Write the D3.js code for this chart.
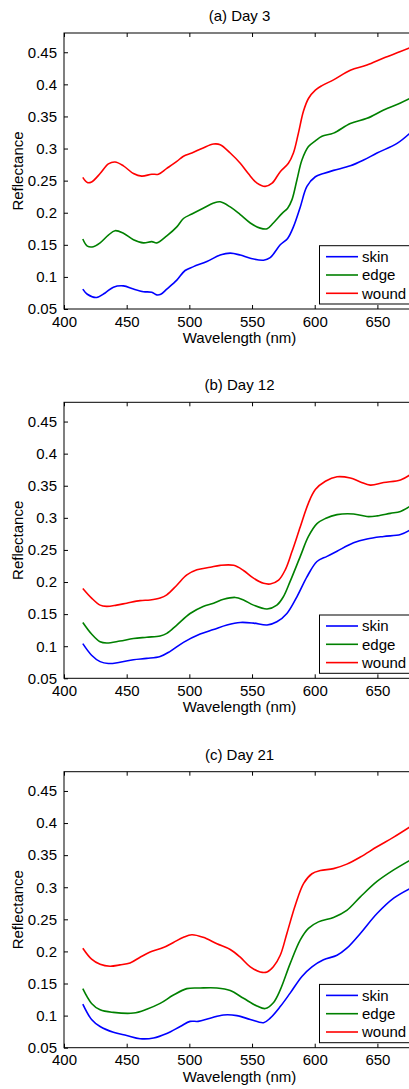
<!DOCTYPE html>
<html>
<head>
<meta charset="utf-8">
<script src="https://cdnjs.cloudflare.com/ajax/libs/d3/7.8.5/d3.min.js"></script>
<style>
  body { margin: 0; background: #fff; overflow: hidden; }
  svg { display: block; font-family: "Liberation Sans", Arial, sans-serif; }
</style>
</head>
<body>
<div id="chart"></div>
<script>
const panelTitles = ["(a) Day 3", "(b) Day 12", "(c) Day 21"];
const seriesNames = ["skin", "edge", "wound"];
const seriesColors = ["#0000ff", "#008000", "#ff0000"];
const xTicks = [400, 450, 500, 550, 600, 650, 700];
const yTicks = [0.05, 0.1, 0.15, 0.2, 0.25, 0.3, 0.35, 0.4, 0.45];

// Day 3 — [wavelength nm, reflectance]
const day3Skin = [[415,0.081],[418.6,0.073],[426,0.068],[432.8,0.075],[439.4,0.084],[447.4,0.086],[455.4,0.081],[463.4,0.077],[470,0.076],[474,0.072],[477.2,0.073],[482,0.081],[490,0.095],[496.6,0.110],[503.3,0.116],[514,0.124],[524.6,0.134],[532.6,0.137],[540.6,0.134],[548.6,0.129],[559.2,0.126],[564.5,0.130],[572.5,0.150],[578.4,0.160],[583,0.178],[588.5,0.209],[593.8,0.241],[600.5,0.256],[607,0.261],[615,0.266],[628.4,0.273],[639,0.282],[649.7,0.293],[665.7,0.308],[676,0.324]];
const day3Edge = [[415,0.159],[418.6,0.148],[423.4,0.147],[428.8,0.153],[435.4,0.165],[440.7,0.172],[447.4,0.168],[455.4,0.158],[463.4,0.153],[470,0.155],[474,0.153],[482,0.164],[490,0.178],[495.3,0.191],[502,0.198],[511,0.207],[519.3,0.215],[524.6,0.217],[532.6,0.209],[540.6,0.197],[548.6,0.184],[556.5,0.176],[562,0.175],[567,0.184],[574,0.199],[578.4,0.207],[581.8,0.220],[585.8,0.251],[589.8,0.282],[595,0.303],[600.5,0.312],[605.8,0.319],[615,0.324],[628.4,0.339],[641.7,0.347],[655,0.360],[668.4,0.371],[676,0.378]];
const day3Wound = [[415,0.255],[418.6,0.247],[422,0.248],[428.8,0.261],[435.4,0.276],[440.7,0.279],[447.4,0.273],[455.4,0.261],[462,0.257],[470,0.260],[475.3,0.260],[482,0.269],[490,0.280],[495.3,0.288],[502,0.293],[511,0.301],[519.3,0.307],[524.6,0.306],[532.6,0.293],[540.6,0.277],[547,0.261],[554,0.246],[560.5,0.241],[566,0.246],[572.5,0.264],[579,0.277],[583,0.293],[587,0.324],[591,0.358],[595,0.378],[600.5,0.391],[605.8,0.398],[615,0.407],[628.4,0.422],[641.7,0.430],[655,0.441],[668.4,0.451],[676,0.457]];

// Day 12
const day12Skin = [[415,0.104],[422,0.086],[428.8,0.076],[435.4,0.073],[444.6,0.075],[455.4,0.079],[466,0.081],[476.7,0.084],[484.7,0.092],[495.3,0.106],[508.6,0.119],[519.3,0.126],[530,0.133],[540.6,0.137],[551.2,0.136],[562,0.133],[569.8,0.138],[577.8,0.151],[585.8,0.177],[593.8,0.208],[601.8,0.232],[609.8,0.240],[617.8,0.248],[631,0.261],[641.7,0.267],[655,0.271],[668.4,0.274],[676,0.281]];
const day12Edge = [[415,0.137],[422,0.119],[428.8,0.107],[434,0.105],[444.6,0.108],[455.4,0.112],[466,0.114],[476.7,0.116],[482,0.120],[490,0.133],[500.6,0.151],[511,0.162],[519.3,0.167],[527.3,0.173],[536.6,0.176],[543.2,0.172],[551.2,0.164],[562,0.158],[569.8,0.164],[575,0.177],[580.4,0.201],[588.5,0.240],[595,0.271],[601.8,0.291],[608.5,0.299],[617.8,0.305],[631,0.306],[641.7,0.302],[649.7,0.303],[660.3,0.307],[668.4,0.310],[676,0.318]];
const day12Wound = [[415,0.190],[422,0.175],[428.8,0.164],[434,0.162],[442,0.164],[450,0.167],[460.7,0.171],[468.7,0.172],[476.7,0.175],[482,0.180],[490,0.195],[498,0.211],[506,0.219],[516.6,0.223],[524.6,0.226],[535.3,0.226],[543.2,0.218],[551.2,0.206],[559.2,0.198],[564.5,0.197],[571.2,0.203],[576.5,0.219],[581.8,0.247],[588.5,0.286],[595,0.323],[600.5,0.344],[608.5,0.357],[617.8,0.364],[628.4,0.362],[636.4,0.356],[644.4,0.351],[655,0.355],[668.4,0.359],[676,0.367]];

// Day 21
const day21Skin = [[415,0.118],[422,0.094],[428.8,0.083],[439.4,0.074],[450,0.069],[460.7,0.064],[471.4,0.065],[482,0.072],[492.7,0.083],[500.6,0.091],[507,0.091],[516.6,0.096],[527.3,0.101],[537.9,0.100],[548.6,0.094],[559.2,0.089],[564.5,0.096],[572.5,0.114],[580.4,0.135],[589.8,0.161],[597.8,0.176],[607,0.187],[617.8,0.194],[625.6,0.205],[636.4,0.228],[649.7,0.259],[663,0.283],[676,0.298]];
const day21Edge = [[415,0.142],[422,0.119],[428.8,0.109],[439.4,0.105],[455.4,0.104],[466,0.110],[476.7,0.119],[487.3,0.132],[498,0.142],[508.6,0.143],[522,0.143],[532.6,0.139],[543.2,0.127],[553.9,0.115],[560.5,0.111],[567,0.120],[572.5,0.140],[580.4,0.181],[588.5,0.218],[595,0.236],[603,0.246],[615,0.253],[625.6,0.264],[636.4,0.285],[649.7,0.309],[663,0.327],[676,0.342]];
const day21Wound = [[415,0.205],[422,0.188],[428.8,0.180],[436.7,0.177],[444.6,0.179],[452.7,0.182],[460.7,0.191],[468.7,0.199],[479.3,0.206],[487.3,0.214],[495.3,0.222],[502,0.226],[511,0.222],[522,0.212],[532.6,0.203],[540.6,0.191],[548.6,0.176],[556.5,0.168],[562,0.168],[567,0.176],[572.5,0.194],[577.8,0.228],[584.5,0.272],[591.2,0.306],[597.8,0.321],[604.5,0.326],[615,0.329],[625.6,0.336],[636.4,0.347],[649.7,0.363],[663,0.378],[676,0.394]];

const panelData = [
  [day3Skin, day3Edge, day3Wound],
  [day12Skin, day12Edge, day12Wound],
  [day21Skin, day21Edge, day21Wound]
];

const width = 409, height = 1089;
const plotLeft = 64, plotRight = 415;
const panelTops = [33, 402.3, 771.7];
const plotH = 276;
const fontSize = 15;

const svg = d3.select("#chart").append("svg")
  .attr("width", width)
  .attr("height", height);

const x = d3.scaleLinear().domain([400, 680]).range([plotLeft, plotRight]);

panelData.forEach((series, i) => {
  const top = panelTops[i];
  const bottom = top + plotH;
  const y = d3.scaleLinear().domain([0.05, 0.48]).range([bottom, top]);
  const g = svg.append("g");

  // title
  g.append("text")
    .attr("x", (plotLeft + plotRight) / 2)
    .attr("y", top - 12)
    .attr("text-anchor", "middle")
    .attr("font-size", fontSize)
    .text(panelTitles[i]);

  // bottom axis, ticks inside
  const xAxis = d3.axisBottom(x).tickValues(xTicks.filter(t => t <= 680))
    .tickSize(-4).tickPadding(10).tickFormat(d3.format("d"));
  const gx = g.append("g").attr("transform", `translate(0,${bottom})`).call(xAxis);
  gx.select(".domain").remove();
  gx.selectAll("text").attr("font-size", fontSize).attr("fill", "#000")
    .attr("font-family", "Liberation Sans, Arial, sans-serif").attr("dy", "0.71em").attr("y", 7);

  // top ticks
  const xTop = d3.axisTop(x).tickValues(xTicks.filter(t => t <= 680)).tickSize(-4).tickFormat("");
  const gxt = g.append("g").attr("transform", `translate(0,${top})`).call(xTop);
  gxt.select(".domain").remove();

  // left axis
  const yAxis = d3.axisLeft(y).tickValues(yTicks).tickSize(-4).tickPadding(7)
    .tickFormat(d => String(+d.toFixed(2)));
  const gy = g.append("g").attr("transform", `translate(${plotLeft},0)`).call(yAxis);
  gy.select(".domain").remove();
  gy.selectAll("text").attr("font-size", fontSize).attr("fill", "#000")
    .attr("font-family", "Liberation Sans, Arial, sans-serif");

  // right ticks
  const yRight = d3.axisRight(y).tickValues(yTicks).tickSize(-4).tickFormat("");
  const gyr = g.append("g").attr("transform", `translate(${plotRight},0)`).call(yRight);
  gyr.select(".domain").remove();

  // frame
  g.append("rect")
    .attr("x", plotLeft).attr("y", top)
    .attr("width", plotRight - plotLeft).attr("height", plotH)
    .attr("fill", "none").attr("stroke", "#000").attr("stroke-width", 1);

  // curves
  const line = d3.line()
    .x(d => x(d[0]))
    .y(d => y(d[1]))
    .curve(d3.curveCatmullRom.alpha(0.5));

  series.forEach((s, k) => {
    g.append("path")
      .datum(s)
      .attr("fill", "none")
      .attr("stroke", seriesColors[k])
      .attr("stroke-width", 1.6)
      .attr("d", line);
  });

  // axis labels
  g.append("text")
    .attr("x", (plotLeft + plotRight) / 2)
    .attr("y", bottom + 34)
    .attr("text-anchor", "middle")
    .attr("font-size", fontSize)
    .text("Wavelength (nm)");

  g.append("text")
    .attr("transform", `translate(${23},${(top + bottom) / 2}) rotate(-90)`)
    .attr("text-anchor", "middle")
    .attr("font-size", fontSize)
    .text("Reflectance");

  // legend
  const lg = g.append("g").attr("transform", `translate(319.5,${bottom - 63.3})`);
  lg.append("rect")
    .attr("width", 92).attr("height", 58.3)
    .attr("fill", "#fff").attr("stroke", "#000").attr("stroke-width", 1);
  seriesNames.forEach((name, k) => {
    const cy = 11 + k * 18.3;
    lg.append("line")
      .attr("x1", 6.5).attr("x2", 38.5)
      .attr("y1", cy).attr("y2", cy)
      .attr("stroke", seriesColors[k]).attr("stroke-width", 1.6);
    lg.append("text")
      .attr("x", 42.5).attr("y", cy)
      .attr("dy", "0.35em")
      .attr("font-size", fontSize)
      .text(name);
  });
});
</script>
</body>
</html>
